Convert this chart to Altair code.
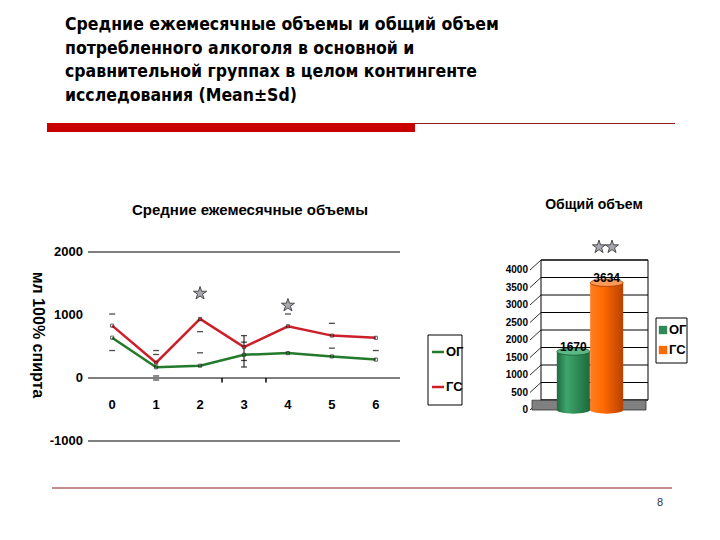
import altair as alt
import pandas as pd

# ---------------- data ----------------
months = [0, 1, 2, 3, 4, 5, 6]
og_mean = [640, 170, 195, 368, 395, 342, 292]
gs_mean = [831, 242, 937, 490, 821, 673, 637]
cap_x = [0, 0, 1, 1, 1, 1, 2, 2, 3, 3, 3, 3, 4, 5, 5, 6]
cap_v = [1016, 436, 436, 373, 32, -32, 736, 400, 673, 569, 278, 174, 1016, 868, 474, 436]
err_x = [3]
err_lo = [174]
err_hi = [673]
star_x = [2, 4]
star_v = [1343, 1153]
line_ticks = [2000, 1000, 0, -1000]
line_grid = [2000, 0, -1000]
stray_ticks = [2.5, 3.5]

groups = ["ОГ", "ГС"]
totals = [1670, 3634]
bar_ticks = [0, 500, 1000, 1500, 2000, 2500, 3000, 3500, 4000]

title_lines = [
    "Средние ежемесячные объемы и общий объем",
    "потребленного алкоголя в основной и",
    "сравнительной группах в целом контингенте",
    "исследования (Mean±Sd)",
]
line_title = "Средние ежемесячные объемы"
y_title = "мл 100% спирта"
bar_title = "Общий объем"
page_no = "8"

NARROW = "Liberation Sans Narrow, Arial Narrow, Liberation Sans, Arial"
SANS = "Liberation Sans, Arial"
HEAD = "DejaVu Sans Condensed, DejaVu Sans"
GREEN = "#237a2c"
RED = "#cc1f2a"
STAR = "M0,-1 L0.2245,-0.309 L0.951,-0.309 L0.363,0.118 L0.588,0.809 L0,0.382 L-0.588,0.809 L-0.363,0.118 L-0.951,-0.309 L-0.2245,-0.309 Z"
ELLIPSE = "M-1,0 A1,0.22 0 1,1 1,0 A1,0.22 0 1,1 -1,0 Z"
PIX = alt.Scale(domain=[0, 700], range=[0, 700])

# ---------------- header / footer decorations ----------------
hdr = pd.DataFrame({"t": title_lines, "i": list(range(len(title_lines)))})
header_text = alt.Chart(hdr).mark_text(
    align="left", baseline="alphabetic", font=HEAD, fontWeight="bold",
    fontSize=17.5, color="black"
).encode(
    x=alt.value(57),
    y=alt.Y("i:Q", scale=alt.Scale(domain=[0, 3], range=[22, 93]), axis=None),
    text="t:N",
)
one = pd.DataFrame({"a": [0]})
red_bar = alt.Chart(one).mark_rect(color="#c80000").encode(
    x=alt.value(39), x2=alt.value(407), y=alt.value(115), y2=alt.value(124))
thin_top = alt.Chart(one).mark_rule(color="#8b1a1a", strokeWidth=1).encode(
    x=alt.value(407), x2=alt.value(667), y=alt.value(115.5))
thin_bottom = alt.Chart(one).mark_rule(color="#8b1a1a", strokeWidth=1).encode(
    x=alt.value(44), x2=alt.value(664), y=alt.value(480))
pnum = alt.Chart(pd.DataFrame({"t": [page_no]})).mark_text(
    font=SANS, fontSize=11, color="#333333", align="center", baseline="middle"
).encode(x=alt.value(652), y=alt.value(495), text="t:N")

deco = alt.layer(header_text, red_bar, thin_top, thin_bottom, pnum)

# ---------------- line chart ----------------
LX = alt.Scale(domain=[-0.55, 6.55], range=[80, 392], nice=False, zero=False)
LY = alt.Scale(domain=[-1000, 2000], range=[433, 244], nice=False, zero=False)

def lx(f):
    return alt.X(f, scale=LX, axis=None)

def ly(f):
    return alt.Y(f, scale=LY, axis=None)

ldf = pd.DataFrame({"m": months * 2, "v": og_mean + gs_mean,
                    "s": ["ОГ"] * len(months) + ["ГС"] * len(months)})
grid = alt.Chart(pd.DataFrame({"g": line_grid})).mark_rule(color="black", strokeWidth=1).encode(
    y=ly("g:Q"), x=alt.value(80), x2=alt.value(392))
ylab = alt.Chart(pd.DataFrame({"g": line_ticks, "t": [str(v) for v in line_ticks]})).mark_text(
    align="right", baseline="middle", font=NARROW, fontWeight="bold", fontSize=13, color="black"
).encode(y=ly("g:Q"), x=alt.value(75), text="t:N")
xlab = alt.Chart(pd.DataFrame({"m": months, "t": [str(m) for m in months]})).mark_text(
    align="center", baseline="middle", font=NARROW, fontWeight="bold", fontSize=13, color="black"
).encode(x=lx("m:Q"), y=alt.value(397), text="t:N")
stray = alt.Chart(pd.DataFrame({"m": stray_ticks, "a": [0, 0], "b": [-70, -70]})).mark_rule(
    color="black", strokeWidth=1.5).encode(x=lx("m:Q"), y=ly("a:Q"), y2="b:Q")
errbar = alt.Chart(pd.DataFrame({"m": err_x, "lo": err_lo, "hi": err_hi})).mark_rule(
    color="black", strokeWidth=1).encode(x=lx("m:Q"), y=ly("lo:Q"), y2="hi:Q")
caps = alt.Chart(pd.DataFrame({"m": cap_x, "v": cap_v})).mark_tick(
    orient="horizontal", color="black", size=6, thickness=1.3).encode(x=lx("m:Q"), y=ly("v:Q"))
og_line = alt.Chart(ldf).transform_filter("datum.s == 'ОГ'").mark_line(
    color=GREEN, strokeWidth=2.5).encode(x=lx("m:Q"), y=ly("v:Q"))
gs_line = alt.Chart(ldf).transform_filter("datum.s == 'ГС'").mark_line(
    color=RED, strokeWidth=2.5).encode(x=lx("m:Q"), y=ly("v:Q"))
pts = alt.Chart(ldf).mark_point(shape="square", size=10, filled=False, color="#222222",
                                strokeWidth=1).encode(x=lx("m:Q"), y=ly("v:Q"))
stars = alt.Chart(pd.DataFrame({"m": star_x, "v": star_v})).mark_point(
    shape=STAR, size=190, filled=True, fill="#a8a8b0", stroke="#4a4a4a", strokeWidth=1, opacity=1
).encode(x=lx("m:Q"), y=ly("v:Q"))
ltitle = alt.Chart(pd.DataFrame({"t": [line_title]})).mark_text(
    font=NARROW, fontWeight="bold", fontSize=15, align="center", baseline="middle", color="black"
).encode(x=alt.value(242), y=alt.value(202), text="t:N")
ytitle = alt.Chart(pd.DataFrame({"t": [y_title]})).mark_text(
    font=SANS, fontWeight="bold", fontSize=16, angle=90, align="center", baseline="middle", color="black"
).encode(x=alt.value(30), y=alt.value(327), text="t:N")

# legend for line chart
lleg_box = alt.Chart(one).mark_rect(fill="white", stroke="black", strokeWidth=1).encode(
    x=alt.value(420), x2=alt.value(454), y=alt.value(327), y2=alt.value(397))
lleg_df = pd.DataFrame({"s": ["ОГ", "ГС"], "c": [GREEN, RED], "yy": [344, 379]})
lleg_lines = alt.Chart(lleg_df).mark_rule(strokeWidth=2.5).encode(
    x=alt.value(424), x2=alt.value(436),
    y=alt.Y("yy:Q", scale=PIX, axis=None),
    color=alt.Color("c:N", scale=None))
lleg_text = alt.Chart(lleg_df).mark_text(
    align="left", baseline="middle", font=NARROW, fontWeight="bold", fontSize=13, color="black"
).encode(x=alt.value(438), y=alt.Y("yy:Q", scale=PIX, axis=None), text="s:N")
lleg = alt.layer(lleg_box, lleg_lines, lleg_text)

line_group = alt.layer(grid, stray, errbar, caps, og_line, gs_line, pts, stars, ylab, xlab)

# ---------------- bar chart ----------------
BX = alt.Scale(domain=groups, range=[532, 632], paddingInner=0, paddingOuter=0.5)
BY = alt.Scale(domain=[0, 4000], range=[402, 262], nice=False, zero=False)

def bx(f):
    return alt.X(f, scale=BX, axis=None)

def by(f):
    return alt.Y(f, scale=BY, axis=None)

bdf = pd.DataFrame({"g": groups, "v": totals, "z": [0, 0], "t": [str(v) for v in totals]})
tdf = pd.DataFrame({"v": bar_ticks, "t": [str(v) for v in bar_ticks]})

wall = alt.Chart(pd.DataFrame({"a": [0], "b": [4000]})).mark_rect(
    fill="white", stroke="black", strokeWidth=1, yOffset=-10, y2Offset=-10).encode(
    y=by("a:Q"), y2="b:Q", x=alt.value(533), x2=alt.value(640))
wall_grid = alt.Chart(tdf).mark_rule(color="black", strokeWidth=1, yOffset=-10).encode(
    y=by("v:Q"), x=alt.value(533), x2=alt.value(640))
diag = alt.Chart(tdf).mark_rule(color="black", strokeWidth=0.8, y2Offset=-10).encode(
    y=by("v:Q"), y2="v:Q", x=alt.value(522), x2=alt.value(533))
floor = alt.Chart(pd.DataFrame({"a": [0], "b": [280]})).mark_rect(
    fill="#808080", stroke="#333333", strokeWidth=0.8).encode(
    y=by("a:Q"), y2="b:Q", x=alt.value(524), x2=alt.value(638))
blab = alt.Chart(tdf).mark_text(
    align="right", baseline="middle", font=NARROW, fontWeight="bold", fontSize=10, color="black"
).encode(y=by("v:Q"), x=alt.value(520), text="t:N")

grads = {
    "ОГ": alt.Gradient(gradient="linear", x1=0, x2=1, y1=0, y2=0, stops=[
        alt.GradientStop(offset=0, color="#1f6b40"),
        alt.GradientStop(offset=0.3, color="#3fa56c"),
        alt.GradientStop(offset=1, color="#1c6a3d")]),
    "ГС": alt.Gradient(gradient="linear", x1=0, x2=1, y1=0, y2=0, stops=[
        alt.GradientStop(offset=0, color="#ff7e22"),
        alt.GradientStop(offset=0.4, color="#ff6a00"),
        alt.GradientStop(offset=1, color="#b84100")]),
}
tops = {"ОГ": ("#5cb884", "#1d5e38"), "ГС": ("#ff9a55", "#a83c00")}

cyl_layers = []
for g in groups:
    sub = alt.Chart(bdf).transform_filter(alt.datum.g == g)
    cyl_layers.append(sub.mark_point(shape=ELLIPSE, size=1089, filled=True, fill=grads[g],
                                     stroke=None, opacity=1).encode(x=bx("g:N"), y=by("z:Q")))
    cyl_layers.append(sub.mark_bar(size=33, color=grads[g]).encode(x=bx("g:N"), y=by("v:Q"), y2="z:Q"))
    cyl_layers.append(sub.mark_point(shape=ELLIPSE, size=1089, filled=True, fill=tops[g][0],
                                     stroke=tops[g][1], strokeWidth=0.8, opacity=1).encode(
        x=bx("g:N"), y=by("v:Q")))

vals = alt.Chart(bdf).mark_text(
    font=NARROW, fontWeight="bold", fontSize=12, align="center", baseline="middle", dy=-5, color="black"
).encode(x=bx("g:N"), y=by("v:Q"), text="t:N")

btitle = alt.Chart(pd.DataFrame({"t": [bar_title]})).mark_text(
    font=NARROW, fontWeight="bold", fontSize=14, align="center", baseline="middle", color="black"
).encode(x=alt.value(586), y=alt.value(197), text="t:N")
bstars = alt.Chart(pd.DataFrame({"xx": [591, 604]})).mark_point(
    shape=STAR, size=190, filled=True, fill="#a8a8b0", stroke="#4a4a4a", strokeWidth=1, opacity=1
).encode(x=alt.X("xx:Q", scale=PIX, axis=None), y=alt.value(239))

# legend for bar chart
bleg_box = alt.Chart(one).mark_rect(fill="white", stroke="black", strokeWidth=1).encode(
    x=alt.value(648), x2=alt.value(679), y=alt.value(310), y2=alt.value(355))
bleg_df = pd.DataFrame({"s": groups, "c": ["#2e8b57", "#ff6a00"], "yy": [322, 342]})
bleg_sq = alt.Chart(bleg_df).mark_point(shape="square", size=70, filled=True, opacity=1).encode(
    x=alt.value(655), y=alt.Y("yy:Q", scale=PIX, axis=None), color=alt.Color("c:N", scale=None))
bleg_text = alt.Chart(bleg_df).mark_text(
    align="left", baseline="middle", font=NARROW, fontWeight="bold", fontSize=13, color="black"
).encode(x=alt.value(661), y=alt.Y("yy:Q", scale=PIX, axis=None), text="s:N")

bar_group = alt.layer(wall, wall_grid, diag, floor, *cyl_layers, vals, blab)

chart = alt.layer(
    deco, ltitle, ytitle, line_group, lleg, bar_group, btitle, bstars, bleg_box, bleg_sq, bleg_text
).resolve_scale(x="independent", y="independent", color="independent").properties(
    width=700, height=520, padding=0, autosize=alt.AutoSizeParams(type="none"),
    background="white"
).configure_view(stroke=None)

chart.save("out.html", embed_options={"renderer": "svg", "actions": False})
